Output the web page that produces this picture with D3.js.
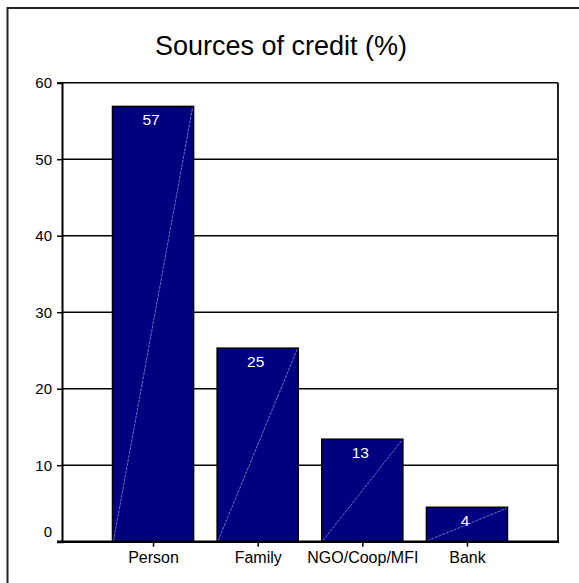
<!DOCTYPE html>
<html>
<head>
<meta charset="utf-8">
<script src="https://cdn.jsdelivr.net/npm/d3@7"></script>
<style>
  html, body { margin: 0; padding: 0; background: #fff; }
  svg { display: block; font-family: "Liberation Sans", Arial, sans-serif; }
</style>
</head>
<body>
<svg id="chart" width="579" height="583"></svg>
<script>
const categories = ["Person", "Family", "NGO/Coop/MFI", "Bank"];
const values = [56.9, 25.3, 13.4, 4.5];
const valueLabels = ["57", "25", "13", "4"];
const yTicks = [0, 10, 20, 30, 40, 50, 60];
const titleText = "Sources of credit (%)";

const svg = d3.select("#chart");
const pLeft = 62, pRight = 558, pTop = 82.7, pBottom = 541.7;

// outer frame
svg.append("rect").attr("x", 7.5).attr("y", 8).attr("width", 600).attr("height", 600)
  .attr("fill", "none").attr("stroke", "#222").attr("stroke-width", 2);

svg.append("text").attr("x", 281).attr("y", 54.5).attr("text-anchor", "middle")
  .attr("font-size", 27).attr("fill", "#000").text(titleText);

const y = d3.scaleLinear().domain([0, 60]).range([pBottom, pTop]);
const x = d3.scalePoint().domain(categories).range([pLeft, pRight]).padding(0.87);
const bw = x.step() * 0.775;

// gridlines
svg.append("g").selectAll("line").data(yTicks.filter(d => d > 0)).join("line")
  .attr("x1", pLeft).attr("x2", pRight)
  .attr("y1", d => y(d)).attr("y2", d => y(d))
  .attr("stroke", "#000").attr("stroke-width", 1.5);

// right border
svg.append("line").attr("x1", pRight).attr("x2", pRight).attr("y1", pTop).attr("y2", pBottom)
  .attr("stroke", "#222").attr("stroke-width", 2);

// bars
const bars = svg.append("g");
bars.selectAll("rect").data(values).join("rect")
  .attr("x", (d, i) => x(categories[i]) - bw / 2)
  .attr("y", d => y(d))
  .attr("width", bw)
  .attr("height", d => y(0) - y(d))
  .attr("fill", "#000080").attr("stroke", "#000").attr("stroke-width", 1.5);

bars.selectAll("line").data(values).join("line")
  .attr("x1", (d, i) => x(categories[i]) - bw / 2 + 1)
  .attr("y1", y(0) - 1)
  .attr("x2", (d, i) => x(categories[i]) + bw / 2 - 1)
  .attr("y2", d => y(d) + 1)
  .attr("stroke", "#8a8ed0").attr("stroke-width", 0.8).attr("stroke-dasharray", "3,1");

bars.selectAll("text").data(values).join("text")
  .attr("x", (d, i) => x(categories[i]) - 2)
  .attr("y", d => y(d) + 19)
  .attr("text-anchor", "middle").attr("font-size", 15.5).attr("fill", "#fff")
  .text((d, i) => valueLabels[i]);

// axes
const yAxis = svg.append("g").attr("transform", `translate(${pLeft},0)`)
  .call(d3.axisLeft(y).tickValues(yTicks).tickSize(5).tickPadding(5).tickFormat(d3.format("d")));
yAxis.select(".domain").attr("stroke", "#000").attr("stroke-width", 2);
yAxis.selectAll(".tick line").attr("stroke", "#000").attr("stroke-width", 1.5);
yAxis.selectAll(".tick text").attr("font-size", 15).attr("fill", "#000")
  .attr("font-family", "Liberation Sans, Arial, sans-serif")
  .attr("dy", d => d === 0 ? "-0.35em" : "0.32em");

const xAxis = svg.append("g").attr("transform", `translate(0,${pBottom})`)
  .call(d3.axisBottom(x).tickSize(5).tickPadding(5));
xAxis.select(".domain").attr("stroke", "#000").attr("stroke-width", 2.5).attr("d", `M${pLeft - 5},0H${pRight + 1}`);
xAxis.selectAll(".tick line").attr("stroke", "#000").attr("stroke-width", 1.5);
xAxis.selectAll(".tick text").attr("font-size", 16).attr("fill", "#000")
  .attr("font-family", "Liberation Sans, Arial, sans-serif");
</script>
</body>
</html>
